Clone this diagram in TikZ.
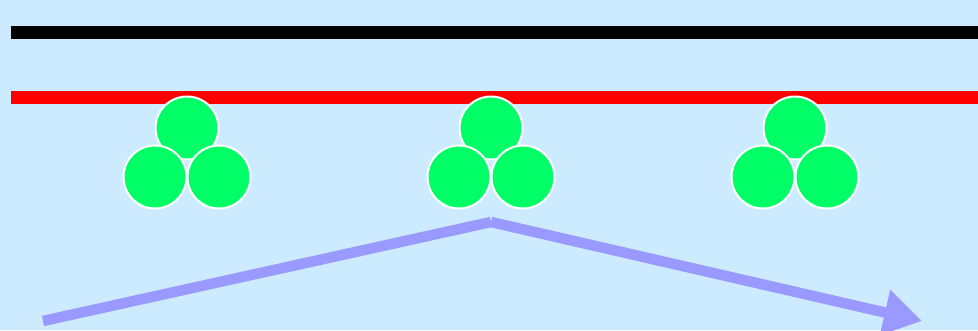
\documentclass[tikz,border=0pt]{standalone}
\usetikzlibrary{arrows.meta}
\definecolor{bg}{HTML}{CCEBFF}
\definecolor{ball}{HTML}{00FF66}
\definecolor{pathc}{HTML}{9999FF}
\begin{document}
\begin{tikzpicture}[x=1pt,y=-1pt,
  ballst/.style={circle,fill=ball,draw=white,line width=2pt,minimum size=63pt,inner sep=0pt},
  railst/.style={line width=13pt},
  movest/.style={pathc,line width=10.5pt}]
\fill[bg] (0,0) rectangle (978,330);
\useasboundingbox (0,0) rectangle (978,330);
\draw[railst,black] (11,32.5) -- (978,32.5);
\draw[railst,red] (11,97) -- (978,97);
\foreach \i/\cx in {1/187,2/491,3/795}{
  \node[ballst] (t\i) at (\cx,128) {};
  \node[ballst] (l\i) at (\cx-32,177) {};
  \node[ballst] (r\i) at (\cx+32,177) {};
}
\coordinate (s) at (43,321);
\coordinate (p) at (491,222);
\coordinate (e) at (922,321);
\draw[movest] (s) -- (p);
\draw[movest,-{Triangle[length=38pt,width=44pt]}] (p) -- (e);
\end{tikzpicture}
\end{document}
